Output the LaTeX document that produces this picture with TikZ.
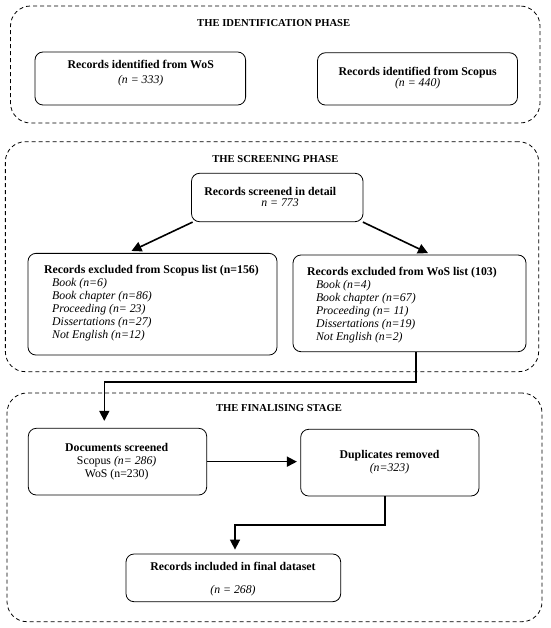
\documentclass[tikz,border=0pt]{standalone}
\usepackage{fontspec}
\setmainfont{Liberation Serif}
\usetikzlibrary{arrows.meta,calc}
\tikzset{
  box/.style={draw, rounded corners=8pt, line width=0.8pt, inner sep=0pt},
  phase/.style={draw, dash pattern=on 4pt off 3pt, rounded corners=20pt, line width=0.8pt, inner sep=0pt},
  arr/.style={line width=1.6pt, -{Triangle[length=10pt,width=10pt]}},
  ptitle/.style={font=\fontsize{10.6}{12}\selectfont\bfseries, inner sep=0pt},
  bt/.style={font=\fontsize{11.8}{13}\selectfont\bfseries, inner sep=0pt, anchor=base},
  it/.style={font=\fontsize{11.8}{13}\selectfont\itshape, inner sep=0pt, anchor=base},
  rt/.style={font=\fontsize{11.8}{13}\selectfont, inner sep=0pt, anchor=base},
}
\begin{document}
\begin{tikzpicture}[x=1pt,y=-1pt]
\useasboundingbox[fill=white] (0,0) rectangle (550,628);
% phases
\node[phase, minimum width=529.5pt, minimum height=117pt] (ph1) at (275.25,64.5) {};
\node[phase, minimum width=533.3pt, minimum height=230pt] (ph2) at (272,256.7) {};
\node[phase, minimum width=535pt, minimum height=228.7pt] (ph3) at (274.5,507.35) {};
\node[ptitle] (t1) at (273.7,23) {THE IDENTIFICATION PHASE};
\node[ptitle] (t2) at (275.4,159) {THE SCREENING PHASE};
\node[ptitle] (t3) at (279,408.3) {THE FINALISING STAGE};
% identification boxes
\node[box, minimum width=210.6pt, minimum height=53pt] (idwos) at (140.3,78.5) {};
\node[bt] (idwos1) at (140.7,68.5) {Records identified from WoS};
\node[it] (idwos2) at (140.7,83.5) {(n = 333)};
\node[box, minimum width=200pt, minimum height=52.3pt] (idsco) at (417.5,78.9) {};
\node[bt] (idsco1) at (417.7,75.5) {Records identified from Scopus};
\node[it] (idsco2) at (417.7,87) {(n = 440)};
% screening
\node[box, minimum width=171.5pt, minimum height=48.4pt] (scr) at (277.25,197.5) {};
\node[bt] (scr1) at (270.3,195.5) {Records screened in detail};
\node[it] (scr2) at (280,206.5) {n = 773};
\node[box, minimum width=249pt, minimum height=101.7pt] (exsco) at (152.5,304.2) {};
\node[bt, anchor=base west] (exsco1) at (43.9,273.5) {Records excluded from Scopus list (n=156)};
\node[it, anchor=base west] (exsco2) at (52,286.5) {Book (n=6)};
\node[it, anchor=base west] (exsco3) at (52,299.5) {Book chapter (n=86)};
\node[it, anchor=base west] (exsco4) at (52,312.5) {Proceeding (n= 23)};
\node[it, anchor=base west] (exsco5) at (52,325.5) {Dissertations (n=27)};
\node[it, anchor=base west] (exsco6) at (52,338.5) {Not English (n=12)};
\node[box, minimum width=233pt, minimum height=96.7pt] (exwos) at (409.5,303.35) {};
\node[bt, anchor=base west] (exwos1) at (307,275.2) {Records excluded from WoS list (103)};
\node[it, anchor=base west] (exwos2) at (315.8,288.2) {Book (n=4)};
\node[it, anchor=base west] (exwos3) at (315.8,301.2) {Book chapter (n=67)};
\node[it, anchor=base west] (exwos4) at (315.8,314.2) {Proceeding (n= 11)};
\node[it, anchor=base west] (exwos5) at (315.8,327.2) {Dissertations (n=19)};
\node[it, anchor=base west] (exwos6) at (315.8,340.2) {Not English (n=2)};
% finalising
\node[box, minimum width=178.4pt, minimum height=66.7pt] (doc) at (117.5,461.65) {};
\node[bt] (doc1) at (116.7,451.5) {Documents screened};
\node[rt] (doc2) at (116.7,464.5) {Scopus \textit{(n= 286)}};
\node[rt] (doc3) at (116.7,477) {WoS (n=230)};
\node[box, minimum width=178.3pt, minimum height=66.7pt] (dup) at (389.85,462.65) {};
\node[bt] (dup1) at (389.5,458.5) {Duplicates removed};
\node[it] (dup2) at (389.5,471.8) {(n=323)};
\node[box, minimum width=214.7pt, minimum height=47.7pt] (fin) at (233.35,577.85) {};
\node[bt] (fin1) at (233,570.8) {Records included in final dataset};
\node[it] (fin2) at (233,593.5) {(n = 268)};
% connectors
\draw[arr] ([xshift=1.5pt]scr.south west) -- ([xshift=-21pt,yshift=2pt]exsco.north);
\draw[arr] ([xshift=-0.5pt]scr.south east) -- ([xshift=18.5pt,yshift=1.5pt]exwos.north);
\draw[arr] ([xshift=6.5pt]exwos.south) -- ++(0,30) -| ([xshift=-13.2pt,yshift=7pt]doc.north);
\draw[arr, shorten >=3.4pt] (doc.east) -- (doc.east -| dup.west);
\draw[arr] ([xshift=-4.85pt]dup.south) -- ++(0,28.3) -| ([xshift=1.65pt,yshift=4pt]fin.north);
\end{tikzpicture}
\end{document}
